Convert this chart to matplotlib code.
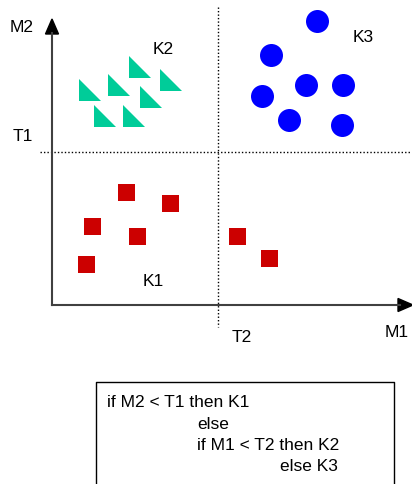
import matplotlib.pyplot as plt
from matplotlib.patches import Polygon

plt.rcParams['font.family'] = ['Liberation Sans', 'DejaVu Sans']

# positions in picture pixels (x right, y down)
k2_x = [90.5, 119.5, 140.5, 171.5, 151, 105.5, 134.5]
k2_y = [90.5, 86, 68, 80.5, 97.5, 116.5, 116.5]
k3_x = [317, 271, 306, 343, 262, 289, 342]
k3_y = [22, 56, 86, 86, 97, 121, 126]
k1_x = [126, 170, 92, 137, 86, 237, 269]
k1_y = [193, 204, 227, 237, 265, 237, 259]
t1 = 153
t2 = 218
rule_lines = ["if M2 < T1 then K1", "else", "if M1 < T2 then K2", "else K3"]

W, H = 412, 485
fig = plt.figure(figsize=(W / 100, H / 100), dpi=100)
ax = fig.add_axes([0, 0, 1, 1])
ax.set_xlim(0, W)
ax.set_ylim(H, 0)
ax.axis('off')

# thresholds
ax.plot([40, W], [t1, t1], color='black', lw=1, ls=(0, (1, 1.5)))
ax.plot([t2, t2], [8, 328], color='black', lw=1, ls=(0, (1, 1.5)))

# axes with arrows
ax.plot([52, 52], [306, 34], color='#404040', lw=1.5)
ax.plot([52, 400], [306, 306], color='#404040', lw=1.5)
ax.add_patch(Polygon([[52, 20], [45.5, 35], [58.5, 35]], closed=True, color='black'))
ax.add_patch(Polygon([[413, 306], [398, 299.5], [398, 312.5]], closed=True, color='black'))

tri = [(-1, 1), (-1, -1), (1, -1)]
ax.scatter(k2_x, k2_y, marker=tri, s=(23 * 0.72) ** 2, color='#00CC99', linewidths=0)
ax.scatter(k3_x, k3_y, marker='o', s=(23 * 0.72) ** 2, color='#0000FF', linewidths=0)
ax.scatter(k1_x, k1_y, marker='s', s=(17 * 0.72) ** 2, color='#CC0000', linewidths=0)

fs = 12.5
ax.text(10, 27, "M2", fontsize=fs, va='center')
ax.text(13, 137, "T1", fontsize=fs, va='center')
ax.text(153, 50, "K2", fontsize=fs, va='center')
ax.text(353, 38, "K3", fontsize=fs, va='center')
ax.text(143, 282, "K1", fontsize=fs, va='center')
ax.text(232, 338, "T2", fontsize=fs, va='center')
ax.text(385, 333, "M1", fontsize=fs, va='center')

# rule box (open at the bottom)
ax.plot([96, 96, 394, 394], [H + 5, 383, 383, H + 5], color='black', lw=1)
xs = [107, 197, 197, 280]
ys = [403, 425, 446, 467]
for line, x, y in zip(rule_lines, xs, ys):
    ax.text(x, y, line, fontsize=fs, va='center')

fig.savefig("out.png", dpi=100)
